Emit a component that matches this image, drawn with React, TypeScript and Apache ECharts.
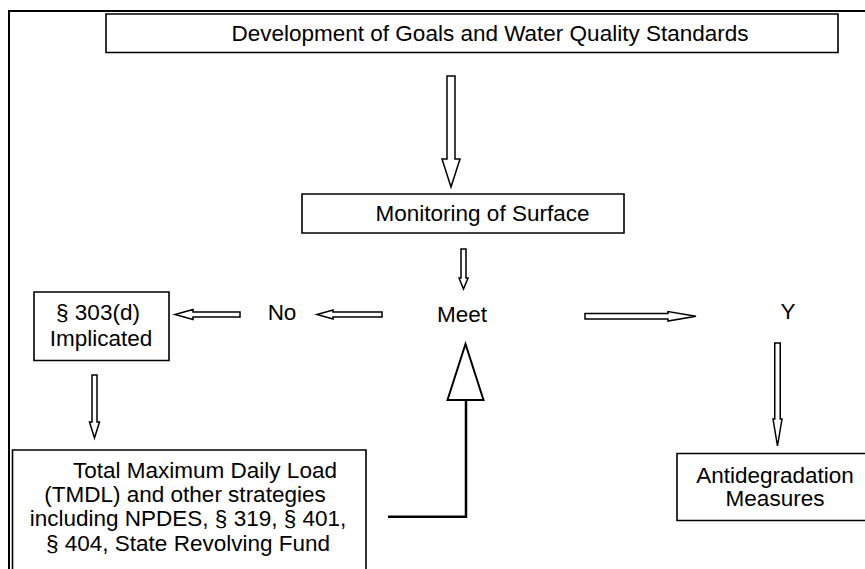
import React, { useEffect, useRef } from "react";
import * as echarts from "echarts";

// Flowchart texts
const topBoxLines = ["Development of Goals and Water Quality Standards"];
const monitorLines = ["Monitoring of Surface"];
const listedLines = ["§ 303(d)", "Implicated"];
const tmdlLines = [
  "Total Maximum Daily Load",
  "(TMDL) and other strategies",
  "including NPDES, § 319, § 401,",
  "§ 404, State Revolving Fund",
];
const antiLines = ["Antidegradation", "Measures"];
const decisionLabels = ["Meet", "No", "Y"];

const FONT = "'Liberation Sans', Arial, Helvetica, sans-serif";
const FS = 22.5;

function txt(text: string, x: number, y: number) {
  return {
    type: "text",
    x,
    y,
    style: {
      text,
      fill: "#000",
      font: `${FS}px ${FONT}`,
      align: "center",
      verticalAlign: "middle",
    },
  };
}

function box(x: number, y: number, w: number, h: number) {
  return {
    type: "rect",
    shape: { x, y, width: w, height: h },
    style: { fill: "#fff", stroke: "#000", lineWidth: 1.6 },
  };
}

function downArrow(cx: number, top: number, hs: number, tip: number, sw: number, hw: number) {
  return {
    type: "polygon",
    shape: {
      points: [
        [cx - sw / 2, top],
        [cx + sw / 2, top],
        [cx + sw / 2, hs],
        [cx + hw / 2, hs],
        [cx, tip],
        [cx - hw / 2, hs],
        [cx - sw / 2, hs],
      ],
    },
    style: { fill: "#fff", stroke: "#000", lineWidth: 1.5 },
  };
}

function hArrow(cy: number, tail: number, hs: number, tip: number, sw: number, hw: number) {
  return {
    type: "polygon",
    shape: {
      points: [
        [tail, cy - sw / 2],
        [hs, cy - sw / 2],
        [hs, cy - hw / 2],
        [tip, cy],
        [hs, cy + hw / 2],
        [hs, cy + sw / 2],
        [tail, cy + sw / 2],
      ],
    },
    style: { fill: "#fff", stroke: "#000", lineWidth: 1.5 },
  };
}

export default function App() {
  const ref = useRef<HTMLDivElement>(null);
  useEffect(() => {
    if (!ref.current) return;
    const chart = echarts.init(ref.current, undefined, { renderer: "svg" });
    const elements: any[] = [
      // outer frame
      { type: "line", shape: { x1: 8, y1: 11, x2: 866, y2: 11 }, style: { stroke: "#000", lineWidth: 2 } },
      { type: "line", shape: { x1: 9, y1: 11, x2: 9, y2: 570 }, style: { stroke: "#000", lineWidth: 2 } },

      // boxes
      box(106, 14, 732, 38.5),
      box(302, 194, 322, 39),
      box(34, 292, 135, 68.5),
      box(12.5, 450, 353.5, 140),
      box(677, 453.5, 200, 67),

      // arrows
      downArrow(451, 76, 159, 187, 8, 18),
      downArrow(463.5, 249, 278, 289, 5, 9),
      downArrow(777.5, 343, 419, 446, 5.5, 9),
      downArrow(94.5, 375, 422, 438, 5, 10),
      hArrow(316.3, 585, 668, 696, 5.5, 9.5),
      hArrow(314.5, 382, 333, 317, 5, 9),
      hArrow(314.5, 240, 193, 175, 5, 10),

      // feedback connector
      {
        type: "polyline",
        shape: { points: [[388, 516.7], [466, 516.7], [466, 400]] },
        style: { stroke: "#000", lineWidth: 2.5, fill: null },
      },
      {
        type: "polygon",
        shape: { points: [[447.5, 400], [483.5, 400], [465.5, 344]] },
        style: { fill: "#fff", stroke: "#000", lineWidth: 2 },
      },

      // texts
      txt(topBoxLines[0], 490, 33),
      txt(monitorLines[0], 482.5, 213),
      txt(listedLines[0], 98, 312),
      txt(listedLines[1], 101, 338),
      txt(tmdlLines[0], 205, 470),
      txt(tmdlLines[1], 185, 494),
      txt(tmdlLines[2], 188, 518),
      txt(tmdlLines[3], 188, 543),
      txt(antiLines[0], 775, 475),
      txt(antiLines[1], 775, 498),
      txt(decisionLabels[0], 462, 314),
      txt(decisionLabels[1], 282, 312),
      txt(decisionLabels[2], 788, 311),
    ];
    chart.setOption({
      animation: false,
      backgroundColor: "#fff",
      graphic: { elements },
    });
    return () => chart.dispose();
  }, []);
  return (
    <div
      ref={ref}
      style={{ position: "fixed", left: 0, top: 0, width: 865, height: 569, background: "#fff" }}
    />
  );
}
